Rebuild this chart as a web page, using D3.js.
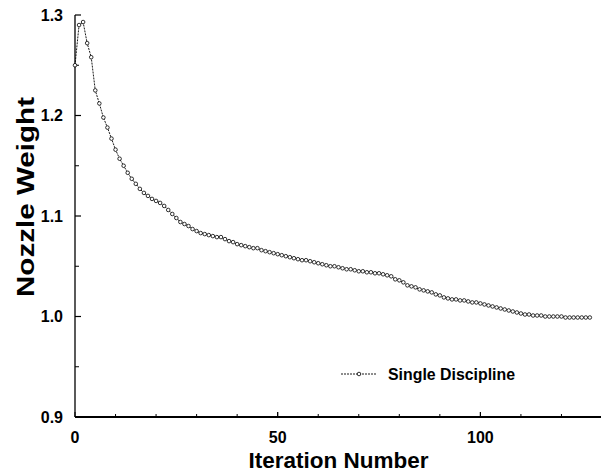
<!DOCTYPE html>
<html>
<head>
<meta charset="utf-8">
<script src="https://cdn.jsdelivr.net/npm/d3@7"></script>
<style>
  body { margin: 0; background: #fff; }
  text { font-family: "Liberation Sans", Arial, sans-serif; font-weight: bold; fill: #000; }
</style>
</head>
<body>
<div id="chart"></div>
<script>
// Nozzle weight history, single discipline optimisation
const iterations = d3.range(0, 128);
const nozzleWeight = [
  1.250, 1.290, 1.293, 1.272, 1.258, 1.225, 1.212, 1.198, 1.188, 1.177,
  1.166, 1.157, 1.150, 1.143, 1.137, 1.132, 1.127, 1.123, 1.120, 1.117,
  1.115, 1.113, 1.110, 1.106, 1.102, 1.098, 1.094, 1.092, 1.090, 1.087,
  1.085, 1.083, 1.082, 1.081, 1.080, 1.079, 1.079, 1.077, 1.075, 1.074,
  1.072, 1.071, 1.070, 1.069, 1.068, 1.068, 1.066, 1.065, 1.064, 1.063,
  1.062, 1.061, 1.060, 1.059, 1.058, 1.057, 1.056, 1.056, 1.055, 1.054,
  1.053, 1.052, 1.051, 1.050, 1.050, 1.049, 1.048, 1.047, 1.047, 1.046,
  1.045, 1.045, 1.044, 1.044, 1.043, 1.043, 1.042, 1.041, 1.040, 1.037,
  1.036, 1.034, 1.031, 1.030, 1.029, 1.027, 1.026, 1.025, 1.024, 1.022,
  1.021, 1.019, 1.018, 1.017, 1.017, 1.016, 1.016, 1.015, 1.014, 1.014,
  1.013, 1.012, 1.011, 1.010, 1.009, 1.008, 1.007, 1.006, 1.005, 1.004,
  1.003, 1.002, 1.002, 1.001, 1.001, 1.001, 1.000, 1.000, 1.000, 1.000,
  1.000, 0.999, 0.999, 0.999, 0.999, 0.999, 0.999, 0.999
];
const xMajorTicks = [0, 50, 100];
const xMinorTicks = d3.range(10, 130, 10);
const yMajorTicks = [0.9, 1.0, 1.1, 1.2, 1.3];
const yMinorTicks = [0.95, 1.05, 1.15, 1.25];
const seriesName = "Single Discipline";

const WIDTH = 602, HEIGHT = 474;
const PLOT_LEFT = 75, PLOT_RIGHT = 602, PLOT_TOP = 15, PLOT_BOTTOM = 417;

const svg = d3.select('#chart').append('svg')
  .attr('width', WIDTH)
  .attr('height', HEIGHT);

const x = d3.scaleLinear().domain([0, 130]).range([PLOT_LEFT, PLOT_RIGHT]);
const y = d3.scaleLinear().domain([0.9, 1.3]).range([PLOT_BOTTOM, PLOT_TOP]);

// axes lines
svg.append('line')
  .attr('x1', PLOT_LEFT).attr('x2', PLOT_LEFT)
  .attr('y1', PLOT_TOP).attr('y2', PLOT_BOTTOM)
  .attr('stroke', '#000').attr('stroke-width', 1.3);
svg.append('line')
  .attr('x1', PLOT_LEFT).attr('x2', PLOT_RIGHT - 1)
  .attr('y1', PLOT_BOTTOM).attr('y2', PLOT_BOTTOM)
  .attr('stroke', '#000').attr('stroke-width', 2);

// ticks (pointing inward)
svg.selectAll('.ytick').data(yMajorTicks).join('line')
  .attr('x1', PLOT_LEFT).attr('x2', PLOT_LEFT + 6)
  .attr('y1', d => y(d)).attr('y2', d => y(d))
  .attr('stroke', '#000').attr('stroke-width', 1.2);
svg.selectAll('.yminor').data(yMinorTicks).join('line')
  .attr('x1', PLOT_LEFT).attr('x2', PLOT_LEFT + 4)
  .attr('y1', d => y(d)).attr('y2', d => y(d))
  .attr('stroke', '#000').attr('stroke-width', 1);
svg.selectAll('.xtick').data(xMajorTicks.concat(xMinorTicks)).join('line')
  .attr('x1', d => x(d)).attr('x2', d => x(d))
  .attr('y1', PLOT_BOTTOM).attr('y2', d => PLOT_BOTTOM - (d % 50 === 0 ? 5 : 3))
  .attr('stroke', '#000').attr('stroke-width', 1);

// tick labels
svg.selectAll('.ylabel').data(yMajorTicks).join('text')
  .attr('x', 63).attr('y', d => y(d))
  .attr('dy', '0.35em')
  .attr('text-anchor', 'end')
  .style('font-size', '16px')
  .text(d => d3.format('.1f')(d));
svg.selectAll('.xlabel').data(xMajorTicks).join('text')
  .attr('x', d => x(d)).attr('y', 443)
  .attr('text-anchor', 'middle')
  .style('font-size', '16px')
  .text(d => d);

// axis titles
svg.append('text')
  .attr('x', (PLOT_LEFT + PLOT_RIGHT) / 2).attr('y', 468)
  .attr('text-anchor', 'middle')
  .style('font-size', '22px')
  .attr('textLength', 180).attr('lengthAdjust', 'spacingAndGlyphs')
  .text('Iteration Number');
svg.append('text')
  .attr('transform', 'translate(34,197) rotate(-90)')
  .attr('text-anchor', 'middle')
  .style('font-size', '24px')
  .attr('textLength', 200).attr('lengthAdjust', 'spacingAndGlyphs')
  .text('Nozzle Weight');

// series
const line = d3.line()
  .x((d, i) => x(iterations[i]))
  .y(d => y(d));

svg.append('path')
  .datum(nozzleWeight)
  .attr('d', line)
  .attr('fill', 'none')
  .attr('stroke', '#000')
  .attr('stroke-width', 0.9)
  .attr('stroke-dasharray', '2,1');

svg.selectAll('.pt').data(nozzleWeight).join('circle')
  .attr('cx', (d, i) => x(iterations[i]))
  .attr('cy', d => y(d))
  .attr('r', 1.8)
  .attr('fill', '#fff')
  .attr('stroke', '#000')
  .attr('stroke-width', 0.8);

// legend
const legend = svg.append('g').attr('transform', 'translate(341,374)');
legend.append('line')
  .attr('x1', 0).attr('x2', 36)
  .attr('stroke', '#000').attr('stroke-width', 0.9)
  .attr('stroke-dasharray', '2,1');
legend.append('circle')
  .attr('cx', 18).attr('r', 1.8)
  .attr('fill', '#fff').attr('stroke', '#000').attr('stroke-width', 0.8);
legend.append('text')
  .attr('x', 47).attr('dy', '0.35em')
  .style('font-size', '16px')
  .attr('textLength', 127).attr('lengthAdjust', 'spacingAndGlyphs')
  .text(seriesName);
</script>
</body>
</html>
